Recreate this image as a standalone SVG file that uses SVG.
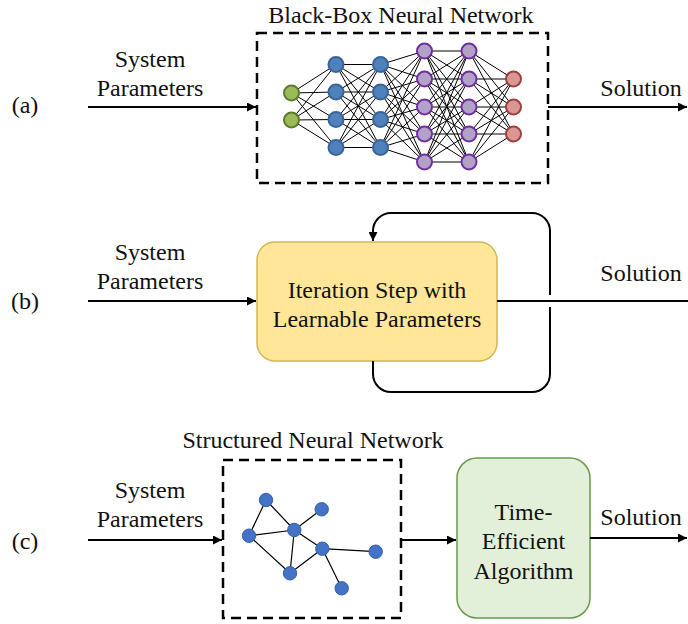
<svg xmlns="http://www.w3.org/2000/svg" width="688" height="624" viewBox="0 0 688 624">
<defs>
<style>
.t{font-family:'Liberation Serif','Times New Roman',serif;font-size:24px;fill:#111;}
.m{text-anchor:middle;}
.ln{fill:none;stroke:#000;stroke-width:2;}
.dash{fill:none;stroke:#000;stroke-width:2.5;stroke-dasharray:10 6;}
.nn{fill:none;stroke:#000;stroke-width:1;}
.g{fill:#9BBB59;stroke:#5E7A2E;stroke-width:2;}
.b{fill:#4F81BD;stroke:#3A6497;stroke-width:2;}
.p{fill:#B3A2C7;stroke:#7030A0;stroke-width:2;}
.r{fill:#D99694;stroke:#A0403C;stroke-width:2;}
.gn{fill:#4472C4;stroke:#3560A8;stroke-width:1;}
.ge{fill:none;stroke:#000;stroke-width:1.2;}
</style>
<marker id="ah" viewBox="0 0 10 10" refX="10" refY="5" markerWidth="4.5" markerHeight="4.5" orient="auto" markerUnits="strokeWidth">
<path d="M0,0L10,5L0,10z" fill="#000"/>
</marker>
</defs>

<g id="labels">
<text x="25" y="113" class="t m">(a)</text>
<text x="25" y="309" class="t m">(b)</text>
<text x="25" y="549" class="t m">(c)</text>
<text x="150" y="67" class="t m">System</text>
<text x="150" y="96" class="t m">Parameters</text>
<text x="150" y="260" class="t m">System</text>
<text x="150" y="289" class="t m">Parameters</text>
<text x="150" y="498" class="t m">System</text>
<text x="150" y="527" class="t m">Parameters</text>
<text x="641" y="96" class="t m">Solution</text>
<text x="641" y="281" class="t m">Solution</text>
<text x="641" y="525" class="t m">Solution</text>
</g>

<g id="blackbox">
<text x="401" y="23" class="t m">Black-Box Neural Network</text>
<rect x="257" y="33" width="291" height="150" class="dash"/>
<path class="nn" d="M291.5 93L336 64.5M291.5 93L336 92M291.5 93L336 119.5M291.5 93L336 147.5M291.5 120L336 64.5M291.5 120L336 92M291.5 120L336 119.5M291.5 120L336 147.5
M336 64.5L380.5 64.5M336 64.5L380.5 92M336 64.5L380.5 119.5M336 64.5L380.5 147.5
M336 92L380.5 64.5M336 92L380.5 92M336 92L380.5 119.5M336 92L380.5 147.5
M336 119.5L380.5 64.5M336 119.5L380.5 92M336 119.5L380.5 119.5M336 119.5L380.5 147.5
M336 147.5L380.5 64.5M336 147.5L380.5 92M336 147.5L380.5 119.5M336 147.5L380.5 147.5
M380.5 64.5L424.5 51M380.5 64.5L424.5 79M380.5 64.5L424.5 107M380.5 64.5L424.5 134M380.5 64.5L424.5 162
M380.5 92L424.5 51M380.5 92L424.5 79M380.5 92L424.5 107M380.5 92L424.5 134M380.5 92L424.5 162
M380.5 119.5L424.5 51M380.5 119.5L424.5 79M380.5 119.5L424.5 107M380.5 119.5L424.5 134M380.5 119.5L424.5 162
M380.5 147.5L424.5 51M380.5 147.5L424.5 79M380.5 147.5L424.5 107M380.5 147.5L424.5 134M380.5 147.5L424.5 162
M424.5 51L469 51M424.5 51L469 79M424.5 51L469 107M424.5 51L469 134M424.5 51L469 162
M424.5 79L469 51M424.5 79L469 79M424.5 79L469 107M424.5 79L469 134M424.5 79L469 162
M424.5 107L469 51M424.5 107L469 79M424.5 107L469 107M424.5 107L469 134M424.5 107L469 162
M424.5 134L469 51M424.5 134L469 79M424.5 134L469 107M424.5 134L469 134M424.5 134L469 162
M424.5 162L469 51M424.5 162L469 79M424.5 162L469 107M424.5 162L469 134M424.5 162L469 162
M469 51L513.5 79M469 51L513.5 107M469 51L513.5 134
M469 79L513.5 79M469 79L513.5 107M469 79L513.5 134
M469 107L513.5 79M469 107L513.5 107M469 107L513.5 134
M469 134L513.5 79M469 134L513.5 107M469 134L513.5 134
M469 162L513.5 79M469 162L513.5 107M469 162L513.5 134"/>
<circle cx="291.5" cy="93" r="7.5" class="g"/>
<circle cx="291.5" cy="120" r="7.5" class="g"/>
<circle cx="336" cy="64.5" r="7.5" class="b"/>
<circle cx="336" cy="92" r="7.5" class="b"/>
<circle cx="336" cy="119.5" r="7.5" class="b"/>
<circle cx="336" cy="147.5" r="7.5" class="b"/>
<circle cx="380.5" cy="64.5" r="7.5" class="b"/>
<circle cx="380.5" cy="92" r="7.5" class="b"/>
<circle cx="380.5" cy="119.5" r="7.5" class="b"/>
<circle cx="380.5" cy="147.5" r="7.5" class="b"/>
<circle cx="424.5" cy="51" r="7.5" class="p"/>
<circle cx="424.5" cy="79" r="7.5" class="p"/>
<circle cx="424.5" cy="107" r="7.5" class="p"/>
<circle cx="424.5" cy="134" r="7.5" class="p"/>
<circle cx="424.5" cy="162" r="7.5" class="p"/>
<circle cx="469" cy="51" r="7.5" class="p"/>
<circle cx="469" cy="79" r="7.5" class="p"/>
<circle cx="469" cy="107" r="7.5" class="p"/>
<circle cx="469" cy="134" r="7.5" class="p"/>
<circle cx="469" cy="162" r="7.5" class="p"/>
<circle cx="513.5" cy="79" r="7.5" class="r"/>
<circle cx="513.5" cy="107" r="7.5" class="r"/>
<circle cx="513.5" cy="134" r="7.5" class="r"/>
</g>

<g id="iteration">
<rect x="257" y="242" width="240" height="119" rx="18" fill="#FFE699" stroke="#D6B656" stroke-width="1.5"/>
<text x="377" y="298" class="t m">Iteration Step with</text>
<text x="377" y="327" class="t m">Learnable Parameters</text>
</g>

<g id="structured">
<text x="313" y="448" class="t m">Structured Neural Network</text>
<rect x="223" y="460" width="178" height="158" class="dash"/>
<path class="ge" d="M266 500L249 535.7M266 500L294.3 530M294.3 530L321.7 509.3M249 535.7L294.3 530M249 535.7L290 573.3M294.3 530L290 573.3M294.3 530L322.3 548.7M290 573.3L322.3 548.7M322.3 548.7L375.7 551.7M322.3 548.7L341.7 588.3"/>
<circle cx="266" cy="500" r="6.7" class="gn"/>
<circle cx="321.7" cy="509.3" r="6.7" class="gn"/>
<circle cx="294.3" cy="530" r="6.7" class="gn"/>
<circle cx="249" cy="535.7" r="6.7" class="gn"/>
<circle cx="322.3" cy="548.7" r="6.7" class="gn"/>
<circle cx="375.7" cy="551.7" r="6.7" class="gn"/>
<circle cx="290" cy="573.3" r="6.7" class="gn"/>
<circle cx="341.7" cy="588.3" r="6.7" class="gn"/>
</g>

<g id="algorithm">
<rect x="457" y="458" width="133" height="160" rx="20" fill="#E2F0D9" stroke="#6A9A4A" stroke-width="1.5"/>
<text x="523.5" y="520" class="t m">Time-</text>
<text x="523.5" y="549" class="t m">Efficient</text>
<text x="523.5" y="579" class="t m">Algorithm</text>
</g>

<g id="connectors">
<path class="ln" d="M88 107H256" marker-end="url(#ah)"/>
<path class="ln" d="M548 107H687" marker-end="url(#ah)"/>
<path class="ln" d="M88 301H256" marker-end="url(#ah)"/>
<path class="ln" d="M497 301H688"/>
<path class="ln" stroke-width="2.5" d="M373 361V374A18 18 0 0 0 391 392H532A18 18 0 0 0 550 374V307"/>
<path class="ln" stroke-width="2.5" d="M550 295V231A18 18 0 0 0 532 213H391A18 18 0 0 0 373 231V241" marker-end="url(#ah)"/>
<path class="ln" d="M88 540H222" marker-end="url(#ah)"/>
<path class="ln" d="M401 540H456" marker-end="url(#ah)"/>
<path class="ln" d="M590 538H687" marker-end="url(#ah)"/>
</g>
</svg>
